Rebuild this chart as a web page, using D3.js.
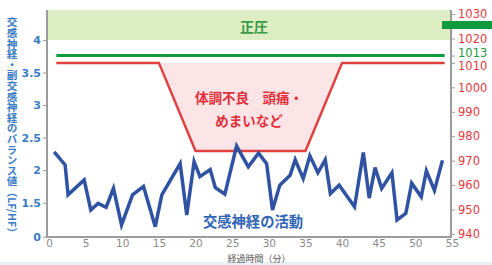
<!DOCTYPE html>
<html>
<head>
<meta charset="utf-8">
<script src="https://cdn.jsdelivr.net/npm/d3@7"></script>
<style>
  body { margin: 0; background: #fff; }
  svg { display: block; }
  .tick text { font-family: "DejaVu Sans", sans-serif; }
</style>
</head>
<body>
<div class="canvas"></div>
<script>
// data
const xTicks = [0, 5, 10, 15, 20, 25, 30, 35, 40, 45, 50, 55];
const leftTicks = [0, 1.5, 2, 2.5, 3, 3.5, 4];
const rightTicks = [940, 950, 960, 970, 980, 990, 1000, 1010, 1013, 1020, 1030];

// 交感神経の活動 (LF/HF)
const sympTime = [0.7, 2.2, 2.6, 4.8, 5.7, 6.7, 7.8, 8.8, 9.9, 11.4, 12.9, 14.5, 15.4, 17.9, 18.8, 19.8,
  20.6, 22, 22.7, 24, 25.6, 27.2, 28.6, 29.7, 30.5, 31.5, 32.9, 33.6, 34.7, 35.6, 36.7, 37.7, 38.4,
  39.6, 41.7, 42.9, 43.7, 44.5, 45.4, 46.8, 47.5, 48.7, 49.5, 50.8, 51.5, 52.6, 53.7];
const sympValue = [2.28, 2.08, 1.62, 1.85, 1.18, 1.47, 1.30, 1.72, 0.52, 1.62, 1.75, 0.44, 1.62, 2.10, 0.96, 2.13,
  1.90, 2.01, 1.73, 1.63, 2.37, 2.05, 2.26, 2.10, 1.18, 1.77, 1.92, 2.16, 1.87, 2.22, 1.96, 2.16, 1.64,
  1.77, 1.32, 2.27, 1.57, 2.04, 1.72, 1.96, 0.74, 1.03, 1.80, 1.59, 1.99, 1.69, 2.15];

// 気圧 (hPa)
const pressTime = [1, 15, 20, 35, 40, 54];
const pressValue = [1010, 1010, 974, 974, 1010, 1010];
const normalTime = [1, 54];
const normalPress = 1013;
const positiveFrom = 4;       // 正圧 band starts at this LF/HF level
const markerPress = 1025.5;   // green marker on right axis

const W = 492, H = 265;
const TOP = 10, LEFT = 47, RIGHT = 451, BOTTOM = 237;

const svg = d3.select('.canvas').append('svg')
  .attr('width', W)
  .attr('height', H);

// scales
const x = d3.scaleLinear().domain([0, 55]).range([49, 452]);
const yL = d3.scaleLinear().domain([0, 1.5, 4]).range([236.7, 202.7, 40]);
const yR = d3.scaleLinear().domain([940, 1030]).range([234, 14]);

// bottom strip
svg.append('rect')
  .attr('x', 0).attr('y', 262).attr('width', W).attr('height', 3)
  .attr('fill', '#e8f1fa');

// 正圧 band
svg.append('rect')
  .attr('x', LEFT).attr('y', TOP)
  .attr('width', RIGHT - LEFT).attr('height', yL(positiveFrom) - TOP)
  .attr('fill', '#dcedc2');

svg.append('text')
  .attr('x', 254).attr('y', 26)
  .attr('text-anchor', 'middle').attr('dominant-baseline', 'central')
  .style('font-family', '"Noto Sans CJK JP"').style('font-weight', 'bold')
  .style('font-size', '14px').attr('fill', '#3a9a48')
  .text('正圧');

// pink area under 1010 level
const pressData = pressTime.map((t, i) => ({ t, v: pressValue[i] }));
svg.append('path')
  .datum(pressData)
  .attr('fill', '#fde5e7')
  .attr('d', d3.area()
    .x(d => x(d.t))
    .y0(yR(1010))
    .y1(d => yR(d.v)));

// normal pressure line
svg.append('line')
  .attr('x1', x(normalTime[0])).attr('x2', x(normalTime[1]))
  .attr('y1', yR(normalPress)).attr('y2', yR(normalPress))
  .attr('stroke', '#129a3c').attr('stroke-width', 3);

// pressure line
svg.append('path')
  .datum(pressData)
  .attr('fill', 'none')
  .attr('stroke', '#e2403f')
  .attr('stroke-width', 2.5)
  .attr('stroke-linejoin', 'miter')
  .attr('d', d3.line().x(d => x(d.t)).y(d => yR(d.v)));

const redText = svg.append('g')
  .style('font-family', '"Noto Sans CJK JP"').style('font-weight', 'bold')
  .style('font-size', '13.5px').attr('fill', '#e0303b')
  .attr('text-anchor', 'middle');
redText.append('text').attr('x', 249).attr('y', 103).text('体調不良　頭痛・');
redText.append('text').attr('x', 249).attr('y', 126).text('めまいなど');

// sympathetic line
const sympData = sympTime.map((t, i) => ({ t, v: sympValue[i] }));
svg.append('path')
  .datum(sympData)
  .attr('fill', 'none')
  .attr('stroke', '#2f52a3')
  .attr('stroke-width', 3.5)
  .attr('stroke-linejoin', 'miter')
  .attr('d', d3.line().x(d => x(d.t)).y(d => yL(d.v)));

svg.append('text')
  .attr('x', 253).attr('y', 227)
  .attr('text-anchor', 'middle')
  .style('font-family', '"Noto Sans CJK JP"').style('font-weight', 'bold')
  .style('font-size', '14.3px').attr('fill', '#2f64b6')
  .text('交感神経の活動');

// axes
const axisColor = '#9c9c9c';

const xAxis = svg.append('g')
  .attr('transform', `translate(0, ${BOTTOM})`)
  .call(d3.axisBottom(x).tickValues(xTicks).tickSize(0).tickPadding(3));
xAxis.select('.domain').remove();
xAxis.selectAll('text').style('font-size', '10.5px').attr('fill', '#8a8a8a');

const leftAxis = svg.append('g')
  .attr('transform', `translate(${LEFT}, 0)`)
  .call(d3.axisLeft(yL).tickValues(leftTicks).tickSize(4).tickPadding(2).tickFormat(d => String(d)));
leftAxis.select('.domain').remove();
leftAxis.selectAll('line').attr('stroke', axisColor);
leftAxis.selectAll('text').style('font-size', '11px').style('font-weight', 'bold').attr('fill', '#3a7cc6');

const rightAxis = svg.append('g')
  .attr('transform', `translate(${RIGHT}, 0)`)
  .call(d3.axisRight(yR).tickValues(rightTicks).tickSize(4).tickPadding(3).tickFormat(d3.format('d')));
rightAxis.select('.domain').remove();
rightAxis.selectAll('line').attr('stroke', axisColor);
rightAxis.selectAll('text').style('font-size', '11.5px').attr('fill', '#e23a40');
rightAxis.selectAll('.tick').filter(d => d === 1013)
  .select('text').attr('fill', '#1f9a45').attr('dy', '0.1em');
rightAxis.selectAll('.tick').filter(d => d === 1010)
  .select('text').attr('dy', '0.55em');

// axis frame lines
svg.append('line')
  .attr('x1', LEFT).attr('x2', LEFT).attr('y1', TOP).attr('y2', BOTTOM)
  .attr('stroke', axisColor).attr('stroke-width', 2);
svg.append('line')
  .attr('x1', RIGHT).attr('x2', RIGHT).attr('y1', TOP).attr('y2', BOTTOM)
  .attr('stroke', axisColor).attr('stroke-width', 2);
svg.append('line')
  .attr('x1', LEFT - 1).attr('x2', RIGHT + 1).attr('y1', BOTTOM).attr('y2', BOTTOM)
  .attr('stroke', axisColor).attr('stroke-width', 2);

// green marker on right axis
svg.append('rect')
  .attr('x', 442).attr('y', yR(markerPress) - 4)
  .attr('width', W - 442).attr('height', 8)
  .attr('fill', '#0f9a3e');

// axis titles
svg.append('text')
  .attr('x', 12).attr('y', 17)
  .style('writing-mode', 'vertical-rl')
  .style('font-family', '"Noto Sans CJK JP"').style('font-weight', 'bold')
  .style('font-size', '10.6px').attr('fill', '#3a7cc6')
  .text('交感神経・副交感神経のバランス値（LF/HF）');

svg.append('text')
  .attr('x', 259).attr('y', 262)
  .attr('text-anchor', 'middle')
  .style('font-family', '"Noto Sans CJK JP"')
  .style('font-size', '9px').attr('fill', '#555')
  .text('経過時間（分）');
</script>
</body>
</html>
